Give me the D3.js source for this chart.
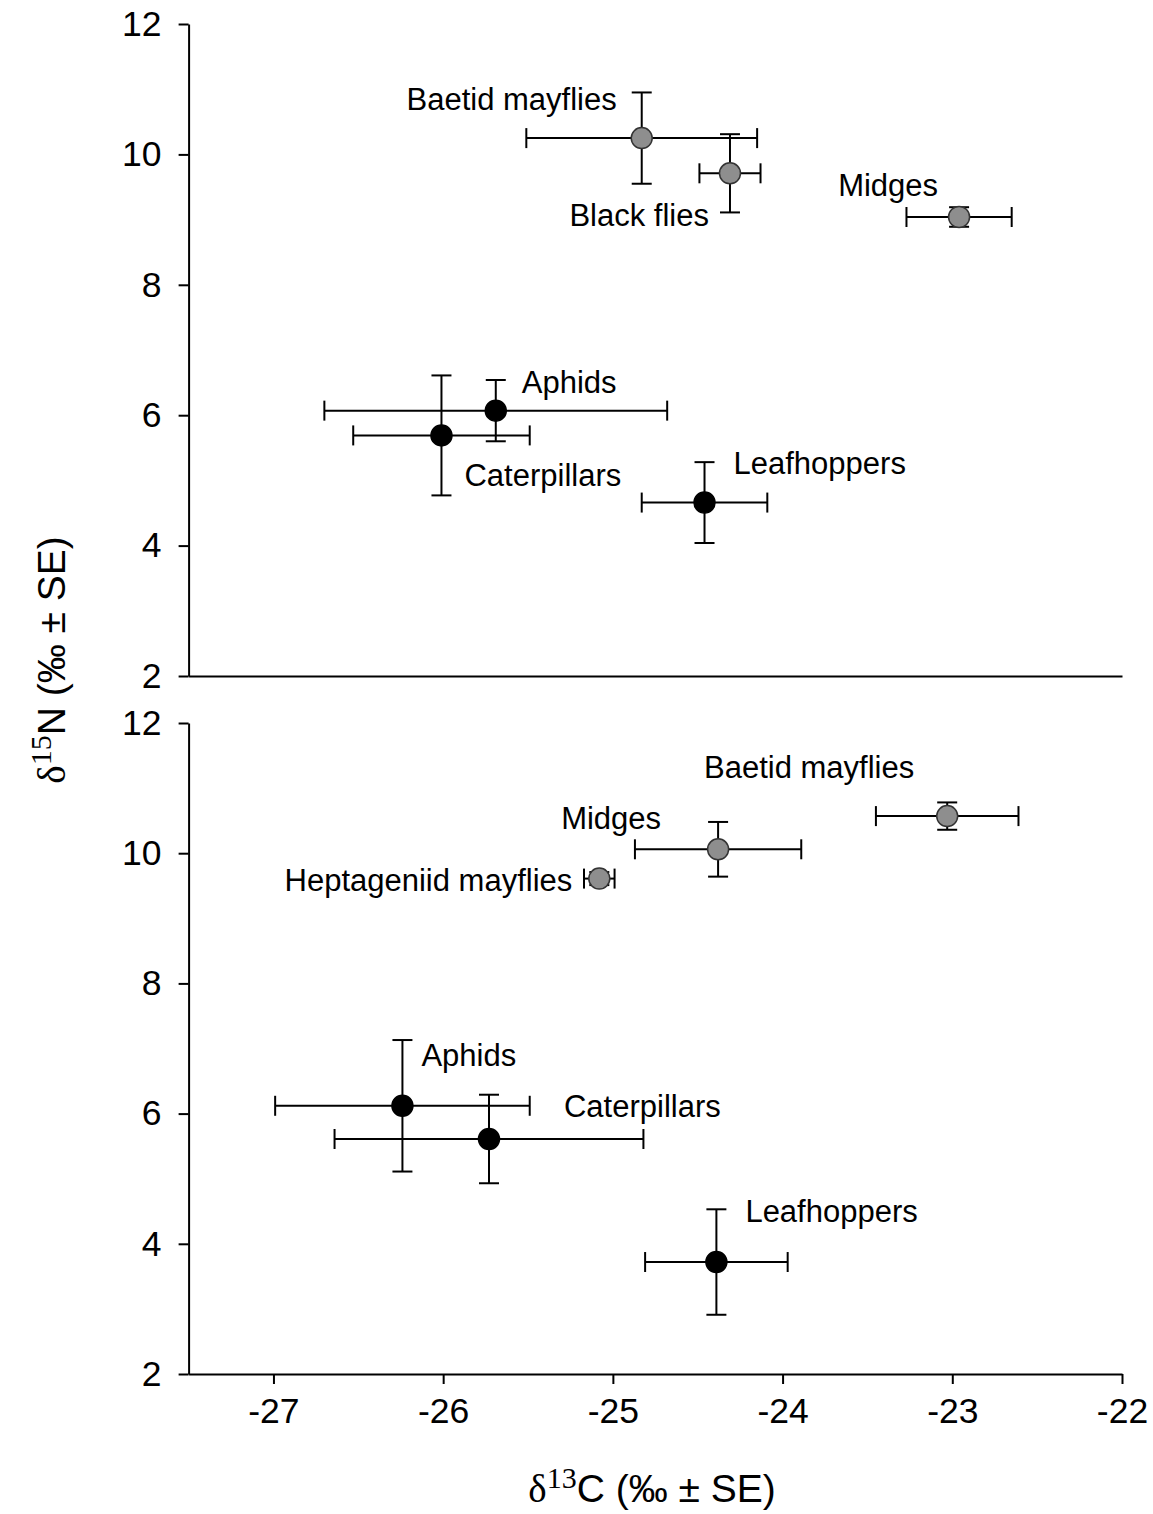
<!DOCTYPE html>
<html>
<head>
<meta charset="utf-8">
<script src="https://cdn.jsdelivr.net/npm/d3@7"></script>
<style>
  body { margin: 0; background: #fff; }
  text { font-family: "Liberation Sans", Arial, sans-serif; fill: #000; }
</style>
</head>
<body>
<figure id="chart" style="margin:0"></figure>
<script>
// tick values
const xTicks = [-27, -26, -25, -24, -23, -22];
const yTicks = [2, 4, 6, 8, 10, 12];

// upper panel
const topNames = ["Baetid mayflies", "Black flies", "Midges", "Aphids", "Caterpillars", "Leafhoppers"];
const topGroup = ["aquatic", "aquatic", "aquatic", "terrestrial", "terrestrial", "terrestrial"];
const topC = [-24.83, -24.31, -22.96, -25.69, -26.01, -24.46];
const topCse = [0.68, 0.18, 0.31, 1.01, 0.52, 0.37];
const topN = [10.25, 9.71, 9.04, 6.07, 5.69, 4.66];
const topNse = [0.70, 0.60, 0.15, 0.47, 0.92, 0.62];

// lower panel
const botNames = ["Baetid mayflies", "Midges", "Heptageniid mayflies", "Aphids", "Caterpillars", "Leafhoppers"];
const botGroup = ["aquatic", "aquatic", "aquatic", "terrestrial", "terrestrial", "terrestrial"];
const botC = [-23.03, -24.38, -25.08, -26.24, -25.73, -24.39];
const botCse = [0.42, 0.49, 0.09, 0.75, 0.91, 0.42];
const botN = [10.57, 10.06, 9.61, 6.12, 5.61, 3.72];
const botNse = [0.21, 0.42, 0.10, 1.01, 0.68, 0.81];

// label placement (pixel offsets from the point)
const topLabelPos = [[-25, -28, "end"], [-21, 53, "end"], [-21, -21, "end"], [26, -18, "start"], [23, 51, "start"], [29, -29, "start"]];
const botLabelPos = [[-33, -38, "end"], [-57, -20, "end"], [-27, 12, "end"], [19, -40, "start"], [75, -22, "start"], [29, -40, "start"]];

const width = 1153, height = 1514;
const left = 188.6, right = 1122;

const svg = d3.select("#chart").append("svg")
  .attr("width", width)
  .attr("height", height);

const x = d3.scaleLinear().domain([-27.5, -22]).range([left, right]);

function drawPanel(top, bottom, names, group, cv, cse, nv, nse, labelPos, showXTicks) {
  const y = d3.scaleLinear().domain([2, 12]).range([bottom, top]);
  const g = svg.append("g");

  // y axis
  const ya = g.append("g")
    .attr("transform", "translate(" + left + ",0)")
    .call(d3.axisLeft(y).tickValues(yTicks).tickSize(10).tickSizeOuter(0).tickPadding(17));
  ya.selectAll("text").style("font-size", "35.5px").attr("font-family", null);

  // x axis
  const xa = g.append("g")
    .attr("transform", "translate(0," + bottom + ")")
    .call(d3.axisBottom(x).tickValues(showXTicks ? xTicks : []).tickSize(10).tickSizeOuter(0).tickPadding(14)
      .tickFormat(d => d3.format("d")(d).replace("\u2212", "-")));
  xa.selectAll("text").style("font-size", "35.5px").attr("font-family", null);

  g.selectAll(".domain, .tick line").attr("stroke", "#000").attr("stroke-width", 2);

  const data = names.map((n, i) => ({ name: n, group: group[i], c: cv[i], cse: cse[i], n: nv[i], nse: nse[i], lp: labelPos[i] }));
  const cap = 10;

  const bars = g.append("g").attr("stroke", "#000").attr("stroke-width", 2);
  data.forEach(d => {
    const cx = x(d.c), cy = y(d.n);
    const x0 = x(d.c - d.cse), x1 = x(d.c + d.cse);
    const y0 = y(d.n - d.nse), y1 = y(d.n + d.nse);
    bars.append("line").attr("x1", x0).attr("x2", x1).attr("y1", cy).attr("y2", cy);
    bars.append("line").attr("x1", x0).attr("x2", x0).attr("y1", cy - cap).attr("y2", cy + cap);
    bars.append("line").attr("x1", x1).attr("x2", x1).attr("y1", cy - cap).attr("y2", cy + cap);
    bars.append("line").attr("x1", cx).attr("x2", cx).attr("y1", y0).attr("y2", y1);
    bars.append("line").attr("x1", cx - cap).attr("x2", cx + cap).attr("y1", y0).attr("y2", y0);
    bars.append("line").attr("x1", cx - cap).attr("x2", cx + cap).attr("y1", y1).attr("y2", y1);
  });

  g.selectAll("circle.pt")
    .data(data)
    .enter()
    .append("circle")
    .attr("class", "pt")
    .attr("cx", d => x(d.c))
    .attr("cy", d => y(d.n))
    .attr("r", 10.5)
    .attr("fill", d => d.group === "aquatic" ? "#8e8e8e" : "#000")
    .attr("stroke", d => d.group === "aquatic" ? "#333" : "#000")
    .attr("stroke-width", 1.5);

  g.selectAll("text.lbl")
    .data(data)
    .enter()
    .append("text")
    .attr("class", "lbl")
    .attr("x", d => x(d.c) + d.lp[0])
    .attr("y", d => y(d.n) + d.lp[1])
    .attr("text-anchor", d => d.lp[2])
    .style("font-size", "31px")
    .text(d => d.name);
}

drawPanel(24, 676, topNames, topGroup, topC, topCse, topN, topNse, topLabelPos, false);
drawPanel(723, 1374, botNames, botGroup, botC, botCse, botN, botNse, botLabelPos, true);

// axis titles
const serif = "Liberation Serif, Times New Roman, serif";
const xt = svg.append("text")
  .attr("x", 652)
  .attr("y", 1502)
  .attr("text-anchor", "middle")
  .style("font-size", "39px");
xt.append("tspan").attr("font-family", serif).text("\u03b4");
xt.append("tspan").attr("font-family", serif).attr("dy", -14).style("font-size", "30px").text("13");
xt.append("tspan").attr("dy", 14).text("C (\u2030 \u00b1 SE)");

const yt = svg.append("text")
  .attr("transform", "translate(65,660) rotate(-90)")
  .attr("text-anchor", "middle")
  .style("font-size", "39px");
yt.append("tspan").attr("font-family", serif).text("\u03b4");
yt.append("tspan").attr("font-family", serif).attr("dy", -14).style("font-size", "30px").text("15");
yt.append("tspan").attr("dy", 14).text("N (\u2030 \u00b1 SE)");
</script>
</body>
</html>
